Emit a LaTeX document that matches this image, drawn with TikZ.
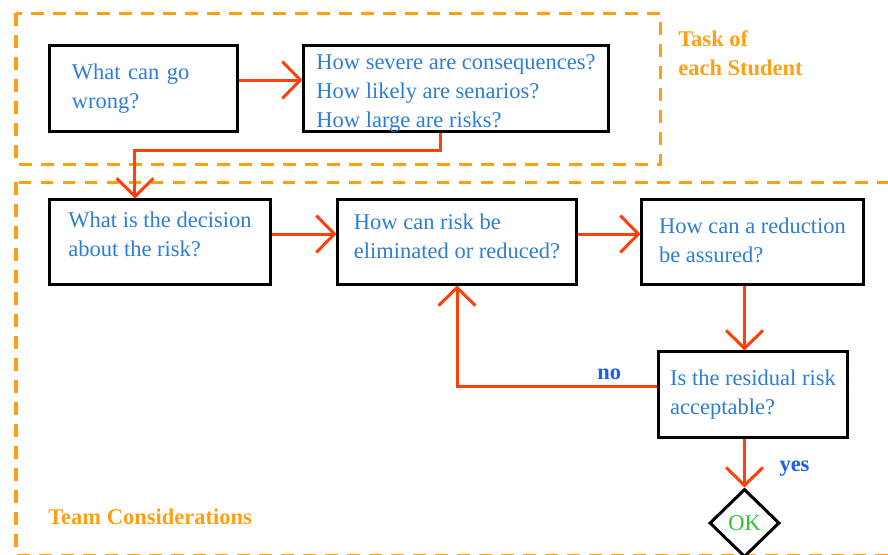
\documentclass[tikz,border=0pt]{standalone}
\usepackage{fontspec}
\setmainfont{Liberation Serif}
\usetikzlibrary{arrows.meta,shapes,positioning,calc}
\definecolor{FlowRed}   {RGB}{255, 64, 10}
\definecolor{TaskOrange}{RGB}{255,160, 20}
\definecolor{AskBlue}   {RGB}{ 45,125,215}
\definecolor{TagBlue}   {RGB}{ 25, 95,240}
\definecolor{OkGreen}   {RGB}{ 40,200, 40}
\newcommand{\askfont}{\fontsize{16}{20.6}\selectfont}

\tikzset{
  qbox/.style={draw=black,line width=0.075cm,text=AskBlue,font=\askfont,
               align=left,inner sep=0pt,minimum height=2.125cm},
  flow/.style={-{Straight Barb[length=0.45cm,width=0.92cm]},FlowRed,line width=0.075cm},
  zone/.style={draw=TaskOrange,line width=0.075cm,dash pattern=on 0.32cm off 0.23cm},
  zonetag/.style={font=\askfont\bfseries,text=TaskOrange,align=left,anchor=west,inner sep=0pt},
  tag/.style={font=\askfont\bfseries,text=TagBlue}
}

\begin{document}
\begin{tikzpicture}[x=0.025cm,y=-0.025cm]
    \useasboundingbox (0,0) rectangle (888,554);
    \clip (0,0) rectangle (888,554);
    % dashed areas
    \draw[zone] (16,13) rectangle (660,164);
    \draw[zone] (16,182) rectangle (905,555);
    \node[zonetag] (task) at (678,53) {Task of\\each Student};
    \node[zonetag] (team) at (48,517) {Team Considerations};

    % student part
    \node[qbox,minimum width=4.675cm,text width=3.575cm] (wrong) at (143.5,88.5)
      {What can go\\wrong?};
    \node[qbox,minimum width=7.6cm,text height=2.05cm] (rate) at (456,88.5)
      {How severe are consequences?\\How likely are senarios?\\How large are risks?};

    % team part
    \node[qbox,minimum width=5.5cm,minimum height=2.1cm,text depth=0.4cm] (decide) at (160,242)
      {What is the decision\\about the risk?};
    \node[qbox,minimum width=5.95cm,minimum height=2.1cm,text depth=0.3cm] (reduce) at (457,242)
      {How can risk be\\eliminated or reduced?};
    \node[qbox,minimum width=5.525cm,minimum height=2.1cm,text depth=0.1cm] (assure) at (752.5,242)
      {How can a reduction\\be assured?};
    \node[qbox,minimum width=4.7cm] (accept) at (753,394.5)
      {Is the residual risk\\acceptable?};
    \node[draw=black,line width=0.075cm,shape=diamond,minimum width=1.75cm,minimum height=1.7cm,
          inner sep=0pt,text=OkGreen,font=\askfont] (ok) at (744.5,523) {OK};

    % arrows
    \draw[flow] ([yshift=0.2125cm]wrong.east) -- ([yshift=0.2125cm]rate.west);
    \draw[flow] ([xshift=-0.4cm]rate.south) -- ++(0,17) -| ([xshift=-0.625cm]decide.north);
    \draw[flow] ([yshift=0.2cm]decide.east) -- ([yshift=0.2cm]reduce.west);
    \draw[flow] ([yshift=0.2cm]reduce.east) -- ([yshift=0.2cm]assure.west);
    \draw[flow] (assure.south -| ok) -- (accept.north -| ok);
    \draw[flow] ([yshift=0.2125cm]accept.west) -| (reduce.south)
      node[tag,pos=0.12,above] {no};
    \draw[flow] (accept.south -| ok) -- (ok.north)
      node[tag,pos=0.62,right=0.72cm] {yes};
\end{tikzpicture}
\end{document}
